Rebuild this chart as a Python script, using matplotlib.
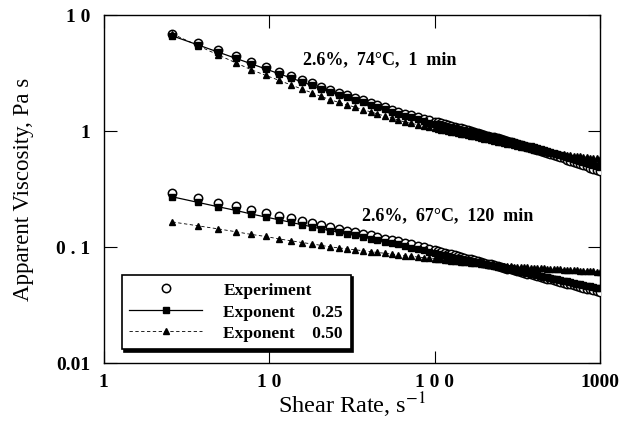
import numpy as np
import matplotlib
matplotlib.use('Agg')
import matplotlib.pyplot as plt
from matplotlib.lines import Line2D
from matplotlib.ticker import FixedLocator, FixedFormatter, NullLocator

plt.rcParams['font.family'] = ['Liberation Serif', 'DejaVu Serif']
plt.rcParams['mathtext.fontset'] = 'stix'

# shear rate, 1/s
shear_rate = [2.6, 3.7, 4.9, 6.3, 7.8, 9.5, 11.5, 13.5, 15.8, 18.2, 20.6, 23.4,
              26.4, 29.7, 33, 37, 41, 45, 50, 55, 60, 66, 72, 79, 86, 93,
              100, 105, 110, 115, 120, 126, 132, 138, 145, 151, 158, 166, 174,
              182, 191, 200, 209, 219, 229, 240, 251, 263, 275, 288, 302, 316,
              331, 347, 363, 380, 398, 417, 437, 457, 479, 501, 525, 550, 575,
              603, 631, 661, 692, 724, 759, 794, 832, 871, 912, 955, 1000]

# 2.6%, 74 C, 1 min
top_exp = [6.85, 5.74, 4.98, 4.39, 3.94, 3.56, 3.23, 2.98, 2.75, 2.56, 2.40, 2.25,
           2.13, 2.02, 1.92, 1.83, 1.74, 1.67, 1.59, 1.52, 1.46, 1.40, 1.36, 1.31,
           1.27, 1.23,
           1.201, 1.181, 1.161, 1.142, 1.123, 1.104, 1.086, 1.068, 1.050, 1.032,
           1.015, 0.998, 0.981, 0.963, 0.945, 0.928, 0.910, 0.893, 0.877, 0.860,
           0.844, 0.828, 0.813, 0.798, 0.783, 0.768, 0.754, 0.740, 0.726, 0.712,
           0.699, 0.686, 0.673, 0.661, 0.646, 0.632, 0.618, 0.604, 0.591, 0.578,
           0.565, 0.552, 0.540, 0.528, 0.517, 0.505, 0.494, 0.483, 0.472, 0.462,
           0.452]
top_n25 = [6.58, 5.51, 4.78, 4.21, 3.78, 3.42, 3.10, 2.86, 2.64, 2.46, 2.30, 2.16,
           2.04, 1.94, 1.84, 1.76, 1.67, 1.60, 1.53, 1.46, 1.40, 1.34, 1.31, 1.26,
           1.22, 1.18,
           1.152, 1.136, 1.119, 1.104, 1.088, 1.072, 1.057, 1.042, 1.027, 1.012,
           0.998, 0.984, 0.969, 0.954, 0.938, 0.924, 0.908, 0.893, 0.879, 0.864,
           0.850, 0.836, 0.823, 0.810, 0.796, 0.783, 0.771, 0.758, 0.746, 0.733,
           0.722, 0.710, 0.698, 0.687, 0.673, 0.660, 0.647, 0.634, 0.622, 0.610,
           0.598, 0.585, 0.574, 0.563, 0.552, 0.541, 0.530, 0.520, 0.509, 0.500,
           0.490]
top_n50 = [6.85, 5.43, 4.52, 3.85, 3.36, 3.01, 2.72, 2.49, 2.29, 2.12, 1.98, 1.85,
           1.76, 1.67, 1.60, 1.52, 1.46, 1.40, 1.34, 1.29, 1.24, 1.19, 1.16, 1.13,
           1.10, 1.08,
           1.055, 1.040, 1.026, 1.012, 0.998, 0.985, 0.971, 0.958, 0.945, 0.932,
           0.920, 0.907, 0.895, 0.882, 0.869, 0.857, 0.844, 0.833, 0.820, 0.809,
           0.797, 0.786, 0.774, 0.763, 0.752, 0.742, 0.731, 0.721, 0.710, 0.700,
           0.690, 0.680, 0.671, 0.661, 0.655, 0.650, 0.645, 0.639, 0.634, 0.629,
           0.624, 0.618, 0.613, 0.608, 0.603, 0.598, 0.593, 0.589, 0.584, 0.579,
           0.574]

# 2.6%, 67 C, 120 min
bot_exp = [0.292, 0.262, 0.240, 0.223, 0.208, 0.196, 0.185, 0.176, 0.168, 0.161,
           0.155, 0.149, 0.143, 0.138, 0.134, 0.129, 0.126, 0.122, 0.118, 0.115,
           0.112, 0.109, 0.105, 0.102, 0.0990, 0.0962,
           0.0937, 0.0922, 0.0907, 0.0892, 0.0877, 0.0863, 0.0848, 0.0834,
           0.0821, 0.0807, 0.0794, 0.0781, 0.0768, 0.0755, 0.0743, 0.0731,
           0.0719, 0.0707, 0.0695, 0.0684, 0.0673, 0.0662, 0.0651, 0.0640,
           0.0630, 0.0619, 0.0609, 0.0599, 0.0589, 0.0579, 0.0570, 0.0561,
           0.0551, 0.0542, 0.0533, 0.0525, 0.0516, 0.0508, 0.0499, 0.0491,
           0.0483, 0.0475, 0.0467, 0.0459, 0.0452, 0.0444, 0.0437, 0.0430,
           0.0423, 0.0416, 0.0409]
bot_n25 = [0.270, 0.242, 0.222, 0.206, 0.192, 0.181, 0.171, 0.163, 0.155, 0.149,
           0.143, 0.138, 0.134, 0.130, 0.126, 0.121, 0.118, 0.115, 0.111, 0.108,
           0.105, 0.102, 0.0987, 0.0959, 0.0931, 0.0904,
           0.0881, 0.0869, 0.0857, 0.0845, 0.0833, 0.0821, 0.0810, 0.0799,
           0.0788, 0.0777, 0.0766, 0.0755, 0.0745, 0.0735, 0.0724, 0.0714,
           0.0704, 0.0695, 0.0685, 0.0675, 0.0666, 0.0657, 0.0648, 0.0639,
           0.0630, 0.0621, 0.0613, 0.0604, 0.0596, 0.0587, 0.0579, 0.0571,
           0.0563, 0.0555, 0.0548, 0.0540, 0.0533, 0.0525, 0.0518, 0.0511,
           0.0504, 0.0497, 0.0490, 0.0483, 0.0476, 0.0470, 0.0463, 0.0457,
           0.0450, 0.0444, 0.0438]
bot_n50 = [0.164, 0.152, 0.143, 0.135, 0.128, 0.123, 0.117, 0.113, 0.109, 0.106,
           0.103, 0.100, 0.0980, 0.0961, 0.0944, 0.0927, 0.0910, 0.0895, 0.0881,
           0.0867, 0.0853, 0.0840, 0.0830, 0.0818, 0.0807, 0.0798,
           0.0789, 0.0784, 0.0779, 0.0773, 0.0768, 0.0763, 0.0757, 0.0752,
           0.0747, 0.0742, 0.0737, 0.0732, 0.0727, 0.0722, 0.0717, 0.0712,
           0.0707, 0.0702, 0.0697, 0.0692, 0.0688, 0.0684, 0.0682, 0.0679,
           0.0676, 0.0673, 0.0671, 0.0668, 0.0665, 0.0663, 0.0660, 0.0657,
           0.0655, 0.0652, 0.0649, 0.0647, 0.0644, 0.0641, 0.0639, 0.0636,
           0.0634, 0.0631, 0.0629, 0.0626, 0.0624, 0.0621, 0.0619, 0.0616,
           0.0614, 0.0611, 0.0608]

x_ticks = [1, 10, 100, 1000]
x_ticklabels = ['1', '1 0', '1 0 0', '1000']
y_ticks = [0.01, 0.1, 1, 10]
y_ticklabels = ['0.01', '0 . 1', '1', '1 0']

fig = plt.figure(figsize=(6.29, 4.39), dpi=100)
ax = fig.add_axes([0.165, 0.171, 0.789, 0.793])

circ = dict(marker='o', ms=6.0, mfc='white', mec='black', mew=1.1, ls='none')
sq = dict(marker='s', ms=3.8, color='black', ls='-', lw=0.9)
tri = dict(marker='^', ms=4.0, color='black', ls=(0, (4, 3)), lw=0.6)

for exp, n25, n50 in [(top_exp, top_n25, top_n50), (bot_exp, bot_n25, bot_n50)]:
    ax.plot(shear_rate, exp, zorder=3, **circ)
    ax.plot(shear_rate, n25, zorder=4, **sq)
    ax.plot(shear_rate, n50, zorder=4, **tri)

ax.set_xscale('log')
ax.set_yscale('log')
ax.set_xlim(1, 1000)
ax.set_ylim(0.01, 10)

ax.xaxis.set_major_locator(FixedLocator(x_ticks))
ax.xaxis.set_major_formatter(FixedFormatter(x_ticklabels))
ax.yaxis.set_major_locator(FixedLocator(y_ticks))
ax.yaxis.set_major_formatter(FixedFormatter(y_ticklabels))
ax.xaxis.set_minor_locator(NullLocator())
ax.yaxis.set_minor_locator(NullLocator())
ax.tick_params(which='major', direction='in', length=9, width=0.8,
               top=True, right=True, labelsize=14)
ax.tick_params(axis='x', pad=7)
ax.tick_params(axis='y', pad=10)
for lab in ax.get_xticklabels() + ax.get_yticklabels():
    lab.set_fontweight('bold')
for sp in ax.spines.values():
    sp.set_linewidth(1.0)

ax.set_xlabel(r'Shear Rate, s$^{-1}$', fontsize=17.5, labelpad=0)
ax.set_ylabel('Apparent Viscosity, Pa s', fontsize=16.5, labelpad=16)

ax.text(0.556, 0.873, '2.6%,  74°C,  1  min', transform=ax.transAxes,
        ha='center', va='center', fontsize=13, fontweight='bold')
ax.text(0.692, 0.425, '2.6%,  67°C,  120  min', transform=ax.transAxes,
        ha='center', va='center', fontsize=13, fontweight='bold')

handles = [Line2D([], [], **circ),
           Line2D([], [], **sq),
           Line2D([], [], **tri)]
labels = ['Experiment', 'Exponent    0.25', 'Exponent    0.50']
leg = ax.legend(handles, labels, loc='lower left', bbox_to_anchor=(0.036, 0.04),
                prop={'weight': 'bold', 'size': 12.5}, frameon=True, fancybox=False,
                shadow={'color': 'black', 'alpha': 1.0}, handlelength=4.2,
                borderpad=0.45, labelspacing=0.3, handletextpad=1.2,
                borderaxespad=0)
leg.get_frame().set_edgecolor('black')
leg.get_frame().set_linewidth(1.2)
leg.get_frame().set_alpha(1.0)

fig.savefig('out.png', dpi=100)
